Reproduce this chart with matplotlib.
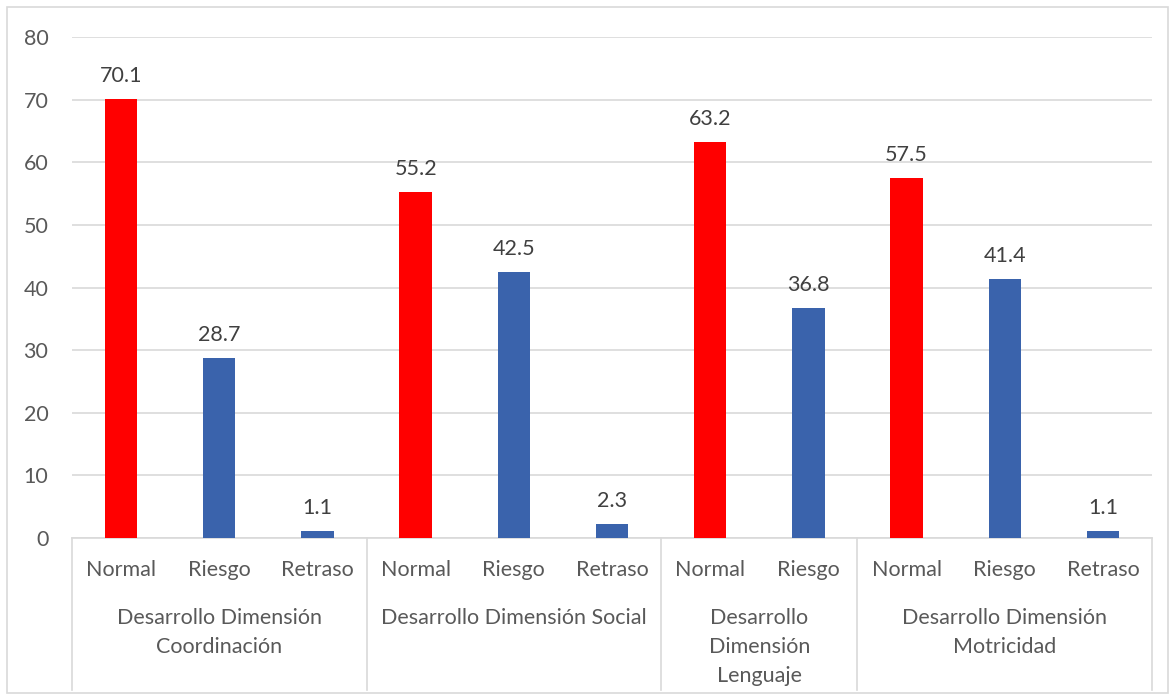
import matplotlib
matplotlib.use("Agg")
import matplotlib.pyplot as plt
from matplotlib.patches import Rectangle

plt.rcParams['font.family'] = ['Lato', 'DejaVu Sans']

# data
groups = ["Desarrollo Dimensión\nCoordinación", "Desarrollo Dimensión Social",
          "Desarrollo\nDimensión\nLenguaje", "Desarrollo Dimensión\nMotricidad"]
levels = [["Normal", "Riesgo", "Retraso"], ["Normal", "Riesgo", "Retraso"],
          ["Normal", "Riesgo"], ["Normal", "Riesgo", "Retraso"]]
values = [[70.1, 28.7, 1.1], [55.2, 42.5, 2.3], [63.2, 36.8], [57.5, 41.4, 1.1]]

red = "#FF0000"
blue = "#3A63AC"
txt = "#595959"
grid = "#D9D9D9"
fs = 15.5

W, H = 1175, 700
fig = plt.figure(figsize=(W / 100, H / 100), dpi=100)
ax = fig.add_axes([72 / W, 1 - 538 / H, 1080 / W, 501 / H])
axh = 501.0

# flatten
labels, vals, cols = [], [], []
bounds = [0]
for lv, vs in zip(levels, values):
    for l, v in zip(lv, vs):
        labels.append(l)
        vals.append(v)
        cols.append(red if l == "Normal" else blue)
    bounds.append(len(labels))
xs = list(range(len(vals)))

ax.bar(xs, vals, width=0.33, color=cols, zorder=3)
for x, v in zip(xs, vals):
    ax.annotate(f"{v:.1f}", (x, v), xytext=(0, 13), textcoords="offset pixels",
                ha="center", va="bottom", fontsize=fs, color="#404040")

ax.set_xlim(-0.5, len(vals) - 0.5)
ax.set_ylim(0, 80)
ax.set_yticks(range(0, 81, 10))
ax.yaxis.grid(True, color=grid, linewidth=1.2, zorder=0)
ax.tick_params(axis="y", length=0, pad=17, labelsize=fs, labelcolor=txt)
ax.set_xticks([])
for s in ["left", "right", "top"]:
    ax.spines[s].set_visible(False)
ax.spines["bottom"].set_color(grid)
ax.spines["bottom"].set_linewidth(1.2)

tr = ax.get_xaxis_transform()
for x, l in zip(xs, labels):
    ax.text(x, -32 / axh, l, transform=tr, ha="center", va="center",
            fontsize=fs, color=txt)
for i, g in enumerate(groups):
    c = (bounds[i] + bounds[i + 1] - 1) / 2
    ax.text(c, -70 / axh, g, transform=tr, ha="center", va="top",
            fontsize=fs, color=txt, linespacing=1.55)
for b in bounds:
    ax.plot([b - 0.5, b - 0.5], [0, -152 / axh], transform=tr, color=grid,
            linewidth=1.2, clip_on=False)

fig.patches.append(Rectangle((7 / W, 7 / H), 1161 / W, 686 / H, transform=fig.transFigure,
                             fill=False, edgecolor=grid, linewidth=1.2))

fig.savefig("out.png", dpi=100)
